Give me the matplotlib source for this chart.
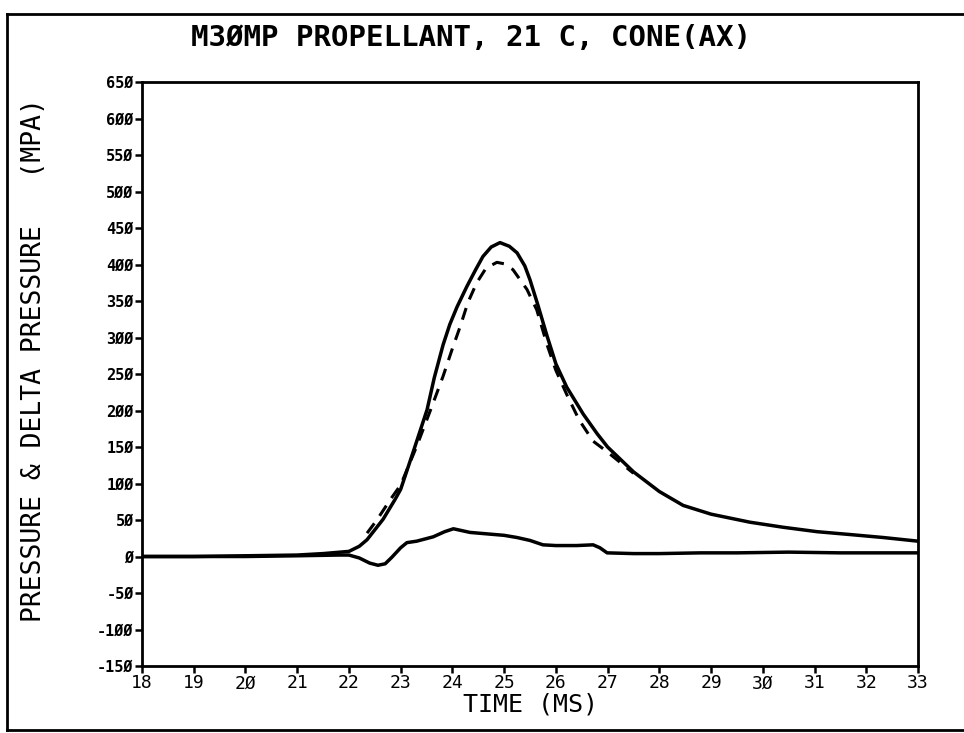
import matplotlib
matplotlib.use("Agg")
from matplotlib import pyplot as plt
from matplotlib.lines import Line2D

# pressure trace (solid)
t_solid = [18, 19, 20, 21, 21.5, 22.0, 22.2, 22.35, 22.66, 22.89, 23.0, 23.25, 23.51,
           23.65, 23.82, 23.95, 24.09, 24.28, 24.45, 24.59, 24.75, 24.92, 25.1, 25.25,
           25.4, 25.5, 25.65, 25.83, 26.0, 26.21, 26.53, 26.8, 27.0, 27.5, 28.0, 28.46,
           29.0, 29.75, 30.4, 31.05, 31.7, 32.33, 33]
p_solid = [0, 0, 1, 2, 4, 7, 14, 23, 51, 78, 92, 145, 201,
           245, 290, 318, 342, 370, 393, 411, 424, 430, 425, 416,
           398, 379, 345, 302, 264, 232, 195, 168, 150, 116, 89, 70,
           58, 47, 40, 34, 30, 26, 21]

# pressure trace (dashed)
t_dash = [22.35, 22.54, 22.8, 23.0, 23.31, 23.6, 23.82, 24.0, 24.15, 24.3, 24.47, 24.65,
          24.86, 25.0, 25.17, 25.44, 25.63, 25.83, 26.0, 26.21, 26.45, 26.72, 27.0, 27.5]
p_dash = [32, 50, 78, 98, 151, 205, 247, 285, 315, 348, 375, 395,
          403, 401, 393, 366, 338, 290, 255, 222, 187, 158, 143, 114]

# delta pressure
t_delta = [18, 20, 21, 21.8, 22.0, 22.2, 22.4, 22.56, 22.7, 22.83, 23.0, 23.12, 23.31,
           23.63, 23.85, 24.02, 24.34, 24.67, 25.0, 25.25, 25.5, 25.75, 26.0, 26.4,
           26.72, 26.85, 26.99, 27.5, 28.0, 28.8, 29.5, 30.5, 31.5, 32.5, 33]
p_delta = [0, 0, 1, 2, 2, -2, -9, -12, -10, -1, 12, 19, 21,
           27, 34, 38, 33, 31, 29, 26, 22, 16, 15, 15,
           16, 12, 5, 4, 4, 5, 5, 6, 5, 5, 5]

xticks = list(range(18, 34))
yticks = list(range(-150, 651, 50))
ytick_labels = [str(v).replace("0", "\u00d8") for v in yticks]
xtick_labels = [str(v).replace("0", "\u00d8") for v in xticks]

mono = "DejaVu Sans Mono"

fig = plt.figure(figsize=(9.64, 7.33), dpi=100)
ax = fig.add_axes([0.1473, 0.0914, 0.8050, 0.7967])

ax.plot(t_solid, p_solid, color="black", lw=2.5, solid_joinstyle="round")
ax.plot(t_dash, p_dash, color="black", lw=2.2, dashes=(4, 3))
ax.plot(t_delta, p_delta, color="black", lw=2.5, solid_joinstyle="round")

ax.set_xlim(18, 33)
ax.set_ylim(-150, 650)
ax.set_xticks(xticks)
ax.set_xticklabels(xtick_labels)
ax.set_yticks(yticks)
ax.set_yticklabels(ytick_labels)
for lbl in ax.get_xticklabels():
    lbl.set_family(mono)
    lbl.set_fontsize(13)
for lbl in ax.get_yticklabels():
    lbl.set_family(mono)
    lbl.set_fontsize(11)
    lbl.set_fontweight("bold")
ax.tick_params(axis="both", direction="out", length=5, width=1.8, pad=1)
for s in ax.spines.values():
    s.set_linewidth(2)

fig.text(471 / 964, 1 - 38 / 733, "M3\u00d8MP PROPELLANT, 21 C, CONE(AX)", family=mono,
         fontsize=21, fontweight="bold", ha="center", va="center")
ax.set_xlabel("TIME (MS)", family=mono, fontsize=18, labelpad=0)
ax.set_ylabel("PRESSURE & DELTA PRESSURE   (MPA)", family=mono, fontsize=19)
ax.yaxis.set_label_coords(-0.122, 0.524)

# outer frame of the scanned page
frame = dict(color="black", lw=2, transform=fig.transFigure)
fig.add_artist(Line2D([7 / 964, 1.0], [1 - 14 / 733, 1 - 14 / 733], **frame))
fig.add_artist(Line2D([7 / 964, 7 / 964], [1 - 14 / 733, 1 - 730 / 733], **frame))
fig.add_artist(Line2D([7 / 964, 1.0], [1 - 730 / 733, 1 - 730 / 733], **frame))

fig.savefig("out.png", dpi=100)
